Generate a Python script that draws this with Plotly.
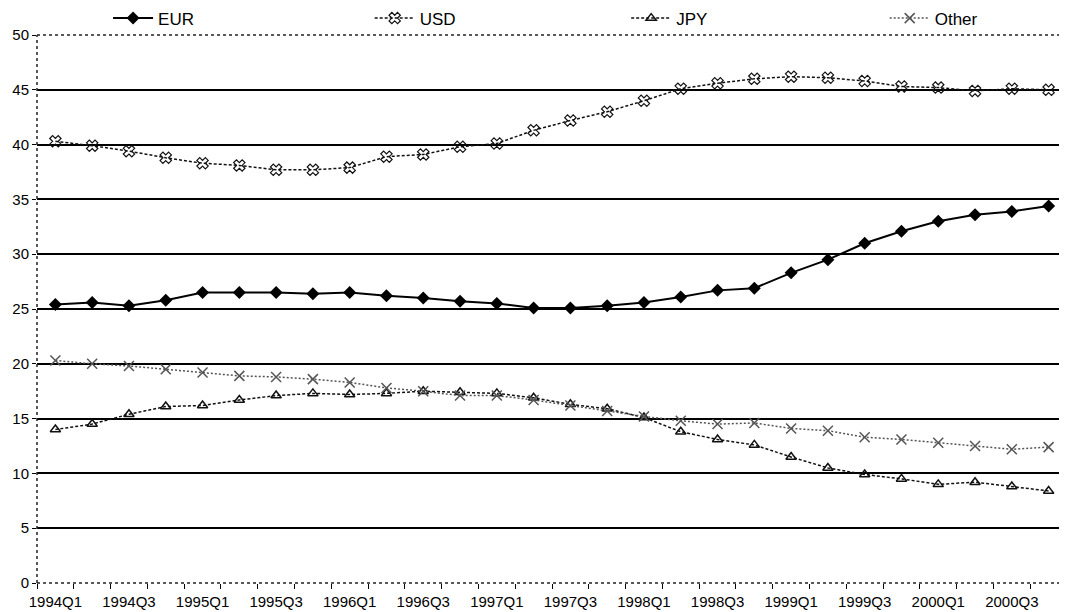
import plotly.graph_objects as go

quarters = ["1994Q1", "1994Q2", "1994Q3", "1994Q4", "1995Q1", "1995Q2", "1995Q3", "1995Q4",
            "1996Q1", "1996Q2", "1996Q3", "1996Q4", "1997Q1", "1997Q2", "1997Q3", "1997Q4",
            "1998Q1", "1998Q2", "1998Q3", "1998Q4", "1999Q1", "1999Q2", "1999Q3", "1999Q4",
            "2000Q1", "2000Q2", "2000Q3", "2000Q4"]

eur = [25.4, 25.6, 25.3, 25.8, 26.5, 26.5, 26.5, 26.4, 26.5, 26.2, 26.0, 25.7, 25.5, 25.1,
       25.1, 25.3, 25.6, 26.1, 26.7, 26.9, 28.3, 29.5, 31.0, 32.1, 33.0, 33.6, 33.9, 34.4]
usd = [40.3, 39.9, 39.4, 38.8, 38.3, 38.1, 37.7, 37.7, 37.9, 38.9, 39.1, 39.8, 40.1, 41.3,
       42.2, 43.0, 44.0, 45.1, 45.6, 46.0, 46.2, 46.1, 45.8, 45.3, 45.2, 44.9, 45.1, 45.0]
jpy = [14.0, 14.5, 15.4, 16.1, 16.2, 16.7, 17.1, 17.3, 17.2, 17.3, 17.5, 17.4, 17.3, 16.9,
       16.3, 15.9, 15.1, 13.8, 13.1, 12.6, 11.5, 10.5, 9.9, 9.5, 9.0, 9.2, 8.8, 8.4]
other = [20.3, 20.0, 19.8, 19.5, 19.2, 18.9, 18.8, 18.6, 18.3, 17.8, 17.5, 17.1, 17.1, 16.7,
         16.2, 15.7, 15.2, 14.8, 14.5, 14.6, 14.1, 13.9, 13.3, 13.1, 12.8, 12.5, 12.2, 12.4]

y_ticks = [0, 5, 10, 15, 20, 25, 30, 35, 40, 45, 50]
grid_vals = [5, 10, 15, 20, 25, 30, 35, 40, 45]

x = list(range(len(quarters)))
label_pos = x[::2]
label_text = quarters[::2]

FONT = "Liberation Sans, Arial, sans-serif"

fig = go.Figure()
fig.add_trace(go.Scatter(
    x=x, y=eur, name="EUR", mode="lines+markers", legend="legend",
    line=dict(color="black", width=2),
    marker=dict(symbol="diamond", size=10, color="black")))
fig.add_trace(go.Scatter(
    x=x, y=usd, name="USD", mode="lines+markers", legend="legend2",
    line=dict(color="#111111", width=1.5, dash="3px,2px"),
    marker=dict(symbol="x-open", size=10, color="#111111", line=dict(width=1.2, color="#111111"))))
fig.add_trace(go.Scatter(
    x=x, y=jpy, name="JPY", mode="lines+markers", legend="legend3",
    line=dict(color="#111111", width=1.5, dash="3px,2px"),
    marker=dict(symbol="triangle-up-open", size=9, color="#111111", line=dict(width=1.5, color="#111111"))))
fig.add_trace(go.Scatter(
    x=x, y=other, name="Other", mode="lines+markers", legend="legend4",
    line=dict(color="#555555", width=1.5, dash="2px,2px"),
    marker=dict(symbol="x-thin-open", size=10, color="#555555", line=dict(width=1.5, color="#555555"))))


def leg(xpos):
    return dict(orientation="h", x=xpos, xanchor="left", y=1.03, yanchor="middle",
                font=dict(size=17, family=FONT), bgcolor="rgba(0,0,0,0)", itemwidth=40)


fig.update_layout(
    width=1059, height=604,
    margin=dict(l=29, r=0, t=27, b=29, autoexpand=False),
    paper_bgcolor="white", plot_bgcolor="white",
    font=dict(family=FONT, size=15, color="black"),
    showlegend=True,
    legend=leg(0.069), legend2=leg(0.323), legend3=leg(0.572), legend4=leg(0.823),
    xaxis=dict(range=[-0.5, len(quarters) - 0.5], tickmode="array",
               tickvals=label_pos, ticktext=label_text, ticks="",
               ticklabelstandoff=8, showgrid=False, zeroline=False, showline=False,
               automargin=False, tickfont=dict(size=15),
               minor=dict(tickmode="linear", tick0=0.5, dtick=1, ticks="outside",
                          ticklen=5, tickcolor="black", tickwidth=1, showgrid=False)),
    yaxis=dict(range=[0, 50], tickmode="array", tickvals=grid_vals, showticklabels=False,
               ticks="", showgrid=True, gridcolor="black", gridwidth=1.6,
               zeroline=False, showline=False, automargin=False),
    yaxis2=dict(range=[0, 50], overlaying="y", side="left", tickmode="array",
                tickvals=y_ticks, ticks="outside", ticklen=4, tickcolor="black",
                showgrid=False, zeroline=False, showline=False, automargin=False,
                tickfont=dict(size=15)),
)

# invisible trace to activate yaxis2
fig.add_trace(go.Scatter(x=[x[0]], y=[eur[0]], yaxis="y2", mode="markers",
                         marker=dict(opacity=0), showlegend=False, hoverinfo="skip"))

border = dict(color="#222222", width=1.5, dash="dot")
fig.add_shape(type="line", xref="paper", yref="paper", x0=0, x1=1, y0=1, y1=1, line=border, layer="above")
fig.add_shape(type="line", xref="paper", yref="paper", x0=0, x1=1, y0=0, y1=0, line=border, layer="above")
fig.add_shape(type="line", xref="paper", yref="paper", x0=0, x1=0, y0=0, y1=1, line=border, layer="above")

fig.write_html("out.html")
